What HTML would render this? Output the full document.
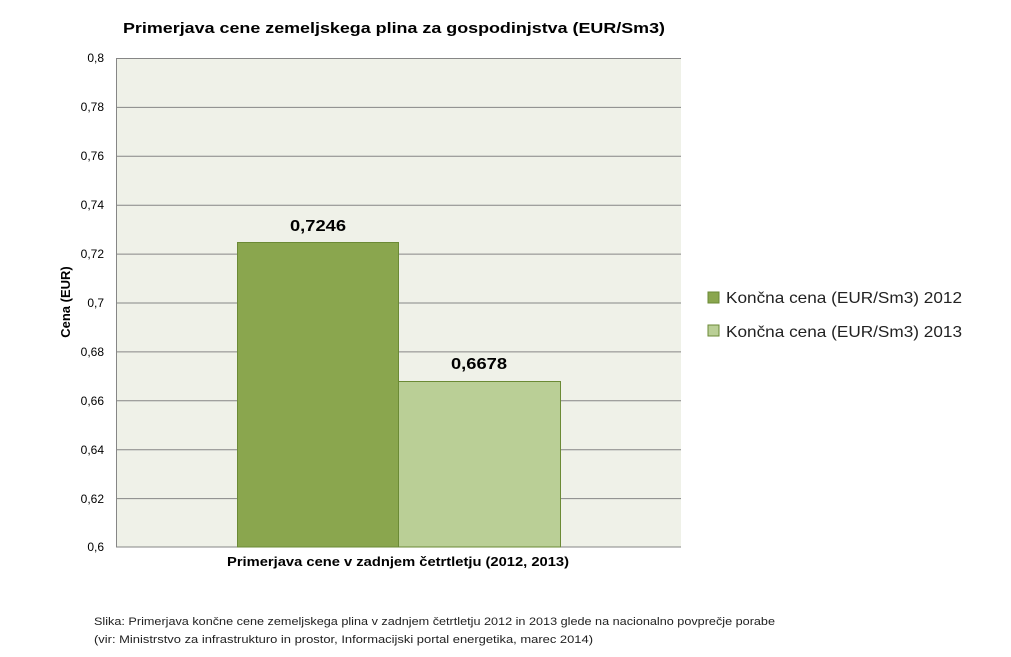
<!DOCTYPE html>
<html><head><meta charset="utf-8"><style>
body{margin:0;background:#fff;}
svg{display:block;font-family:"Liberation Sans","DejaVu Sans",sans-serif;}
</style></head><body>
<svg width="1011" height="657" xmlns="http://www.w3.org/2000/svg">
<rect width="1011" height="657" fill="#fff"/>
<text x="123" y="33" font-size="15" font-weight="bold" fill="#000" textLength="542" lengthAdjust="spacingAndGlyphs">Primerjava cene zemeljskega plina za gospodinjstva (EUR/Sm3)</text>
<rect x="116" y="58" width="565" height="489" fill="#eff1e8"/>
<g stroke="#868686" stroke-width="1">
<line x1="116" x2="681" y1="58.5" y2="58.5"/>
<line x1="116" x2="681" y1="107.4" y2="107.4"/>
<line x1="116" x2="681" y1="156.3" y2="156.3"/>
<line x1="116" x2="681" y1="205.2" y2="205.2"/>
<line x1="116" x2="681" y1="254.1" y2="254.1"/>
<line x1="116" x2="681" y1="303" y2="303"/>
<line x1="116" x2="681" y1="351.9" y2="351.9"/>
<line x1="116" x2="681" y1="400.8" y2="400.8"/>
<line x1="116" x2="681" y1="449.7" y2="449.7"/>
<line x1="116" x2="681" y1="498.6" y2="498.6"/>
<line x1="116" x2="681" y1="547" y2="547"/>
<line x1="116.5" x2="116.5" y1="58" y2="547"/>
</g>
<g font-size="12" fill="#000" text-anchor="end">
<text x="104" y="62">0,8</text>
<text x="104" y="111">0,78</text>
<text x="104" y="160">0,76</text>
<text x="104" y="209">0,74</text>
<text x="104" y="258">0,72</text>
<text x="104" y="307">0,7</text>
<text x="104" y="356">0,68</text>
<text x="104" y="405">0,66</text>
<text x="104" y="454">0,64</text>
<text x="104" y="503">0,62</text>
<text x="104" y="551">0,6</text>
</g>
<rect x="237.5" y="242.5" width="161" height="304.5" fill="#8aa64e" stroke="#6b8a35"/>
<rect x="398.5" y="381.5" width="162" height="165.5" fill="#bacf96" stroke="#6b8a35"/>
<text x="290" y="231" font-size="16" font-weight="bold" textLength="56" lengthAdjust="spacingAndGlyphs">0,7246</text>
<text x="451" y="369" font-size="16" font-weight="bold" textLength="56" lengthAdjust="spacingAndGlyphs">0,6678</text>
<text x="227" y="566" font-size="13" font-weight="bold" textLength="342" lengthAdjust="spacingAndGlyphs">Primerjava cene v zadnjem četrtletju (2012, 2013)</text>
<text transform="translate(70,302) rotate(-90)" text-anchor="middle" font-size="13" font-weight="bold">Cena (EUR)</text>
<rect x="708" y="292" width="11" height="11" fill="#8aa64e" stroke="#6b8a35"/>
<text x="726" y="303" font-size="16" fill="#222" textLength="236" lengthAdjust="spacingAndGlyphs">Končna cena (EUR/Sm3) 2012</text>
<rect x="708" y="325" width="11" height="11" fill="#bacf96" stroke="#6b8a35"/>
<text x="726" y="337" font-size="16" fill="#222" textLength="236" lengthAdjust="spacingAndGlyphs">Končna cena (EUR/Sm3) 2013</text>
<text x="94" y="625" font-size="11" fill="#222" textLength="681" lengthAdjust="spacingAndGlyphs">Slika: Primerjava končne cene zemeljskega plina v zadnjem četrtletju 2012 in 2013 glede na nacionalno povprečje porabe</text>
<text x="94" y="643" font-size="11" fill="#222" textLength="499" lengthAdjust="spacingAndGlyphs">(vir: Ministrstvo za infrastrukturo in prostor, Informacijski portal energetika, marec 2014)</text>
</svg>
</body></html>
